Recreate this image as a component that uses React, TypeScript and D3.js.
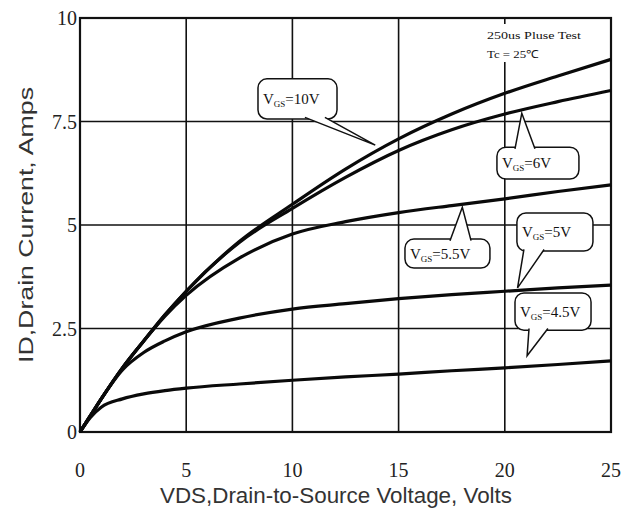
import React, { useEffect, useRef } from 'react';
import * as d3 from 'd3';

// drain-source voltage sample points (V)
const VDS = [0, 0.5, 1, 2, 3, 4, 5, 7.5, 10, 12.5, 15, 17.5, 20, 22.5, 25];

// drain current (A) per gate voltage
const ID_10V = [0, 0.4, 0.8, 1.55, 2.2, 2.83, 3.4, 4.6, 5.5, 6.35, 7.08, 7.68, 8.18, 8.6, 9.0];
const ID_6V = [0, 0.4, 0.8, 1.55, 2.2, 2.83, 3.4, 4.58, 5.4, 6.15, 6.8, 7.3, 7.68, 7.98, 8.25];
const ID_5V5 = [0, 0.4, 0.8, 1.55, 2.2, 2.8, 3.3, 4.2, 4.78, 5.08, 5.3, 5.47, 5.63, 5.81, 5.97];
const ID_5V = [0, 0.4, 0.8, 1.5, 1.92, 2.2, 2.42, 2.75, 2.97, 3.1, 3.22, 3.32, 3.4, 3.48, 3.55];
const ID_4V5 = [0, 0.36, 0.6, 0.8, 0.92, 1.0, 1.06, 1.16, 1.25, 1.33, 1.4, 1.48, 1.55, 1.63, 1.72];

const SERIES = [ID_10V, ID_6V, ID_5V5, ID_5V, ID_4V5];

const X_TICKS = [0, 5, 10, 15, 20, 25];
const Y_TICKS = [0, 2.5, 5, 7.5, 10];

// callouts: label, box [x0, x1, yTop, yBottom], pointer base [xa, xb], tip [x, y] (all in data units)
const CALLOUT_LABELS = ['=10V', '=6V', '=5.5V', '=5V', '=4.5V'];
const CALLOUT_BOXES = [
  [8.38, 12.1, 8.53, 7.56],
  [19.63, 23.49, 6.88, 6.11],
  [15.3, 19.3, 4.66, 3.96],
  [20.57, 24.15, 5.29, 4.37],
  [20.48, 24.06, 3.36, 2.46],
];
const CALLOUT_BASES = [
  [10.59, 11.53],
  [20.48, 21.42],
  [17.42, 18.41],
  [20.9, 21.85],
  [21.14, 22.03],
];
const CALLOUT_TIPS = [
  [13.9, 6.93],
  [20.8, 7.7],
  [18.0, 5.43],
  [20.6, 3.48],
  [21.05, 1.84],
];

const W = 629;
const H = 513;

export default function App() {
  const svgRef = useRef<SVGSVGElement>(null);

  useEffect(() => {
    if (!svgRef.current) return;
    const svg = d3.select(svgRef.current);
    svg.selectAll('*').remove();

    const x = d3.scaleLinear().domain([0, 25]).range([80, 611]);
    const y = d3.scaleLinear().domain([0, 10]).range([432, 18]);

    svg.append('rect').attr('width', W).attr('height', H).attr('fill', '#fff');

    // grid
    const grid = svg.append('g').attr('stroke', '#111').attr('stroke-width', 1.6);
    X_TICKS.forEach(t => {
      grid.append('line').attr('x1', x(t)).attr('x2', x(t)).attr('y1', y(0)).attr('y2', y(10));
    });
    Y_TICKS.forEach(t => {
      grid.append('line').attr('x1', x(0)).attr('x2', x(25)).attr('y1', y(t)).attr('y2', y(t));
    });
    svg.append('rect')
      .attr('x', x(0)).attr('y', y(10))
      .attr('width', x(25) - x(0)).attr('height', y(0) - y(10))
      .attr('fill', 'none').attr('stroke', '#111').attr('stroke-width', 2.2);

    // test conditions note
    const note = svg.append('g').attr('font-family', 'Liberation Serif, serif').attr('font-size', 11).attr('fill', '#111');
    note.append('rect').attr('x', 484).attr('y', 24).attr('width', 110).attr('height', 38).attr('fill', '#fff');
    note.append('text').attr('x', 487).attr('y', 39).attr('textLength', 94).attr('lengthAdjust', 'spacingAndGlyphs').text('250us Pluse Test');
    note.append('text').attr('x', 487).attr('y', 58).attr('textLength', 52).attr('lengthAdjust', 'spacingAndGlyphs').text('Tc = 25\u2103');

    // curves
    const line = d3.line<number>()
      .x((_, i) => x(VDS[i]))
      .y(d => y(d))
      .curve(d3.curveMonotoneX);
    SERIES.forEach(s => {
      svg.append('path')
        .attr('d', line(s))
        .attr('fill', 'none')
        .attr('stroke', '#0a0a0a')
        .attr('stroke-width', 3.2)
        .attr('stroke-linejoin', 'round');
    });

    // callouts
    CALLOUT_LABELS.forEach((lab, i) => {
      const [bx0, bx1, byt, byb] = CALLOUT_BOXES[i];
      const [ba, bb] = CALLOUT_BASES[i];
      const [tx, ty] = CALLOUT_TIPS[i];
      const top = y(byt), bot = y(byb);
      const pointsUp = y(ty) < top;
      const g = svg.append('g');
      g.append('rect')
        .attr('x', x(bx0)).attr('y', top)
        .attr('width', x(bx1) - x(bx0)).attr('height', bot - top)
        .attr('rx', 9)
        .attr('fill', '#fff').attr('stroke', '#111').attr('stroke-width', 1.5);
      const baseY = pointsUp ? top + 1.6 : bot - 1.6;
      g.append('path')
        .attr('d', `M${x(ba)},${baseY}L${x(tx)},${y(ty)}L${x(bb)},${baseY}`)
        .attr('fill', '#fff').attr('stroke', '#111').attr('stroke-width', 1.5)
        .attr('stroke-linejoin', 'miter');
      const t = g.append('text')
        .attr('x', x(bx0) + 5)
        .attr('y', (top + bot) / 2 + 5)
        .attr('font-family', 'Liberation Serif, serif')
        .attr('font-size', 15)
        .attr('fill', '#111');
      t.append('tspan').text('V');
      t.append('tspan').attr('font-size', 9).attr('dy', 3).text('GS');
      t.append('tspan').attr('dy', -3).text(lab);
    });

    // tick labels
    const ticks = svg.append('g').attr('font-family', 'Liberation Serif, serif').attr('font-size', 20).attr('fill', '#222');
    Y_TICKS.forEach(t => {
      ticks.append('text').attr('x', 77).attr('y', y(t) + 7).attr('text-anchor', 'end').text(d3.format('~g')(t));
    });
    X_TICKS.forEach(t => {
      ticks.append('text').attr('x', x(t)).attr('y', 477).attr('text-anchor', 'middle').text(t);
    });

    // axis titles
    svg.append('text')
      .attr('x', 336).attr('y', 503)
      .attr('text-anchor', 'middle')
      .attr('font-family', 'Liberation Sans, Arial, sans-serif')
      .attr('font-size', 22)
      .attr('textLength', 352)
      .attr('lengthAdjust', 'spacingAndGlyphs')
      .attr('fill', '#333')
      .text('VDS,Drain-to-Source Voltage, Volts');
    svg.append('text')
      .attr('transform', 'translate(33,225) rotate(-90)')
      .attr('text-anchor', 'middle')
      .attr('font-family', 'Liberation Sans, Arial, sans-serif')
      .attr('font-size', 21)
      .attr('textLength', 276)
      .attr('lengthAdjust', 'spacingAndGlyphs')
      .attr('fill', '#333')
      .text('ID,Drain Current, Amps');
  }, []);

  return (
    <svg ref={svgRef} width={W} height={H} style={{ position: 'absolute', left: 0, top: 0 }} />
  );
}
